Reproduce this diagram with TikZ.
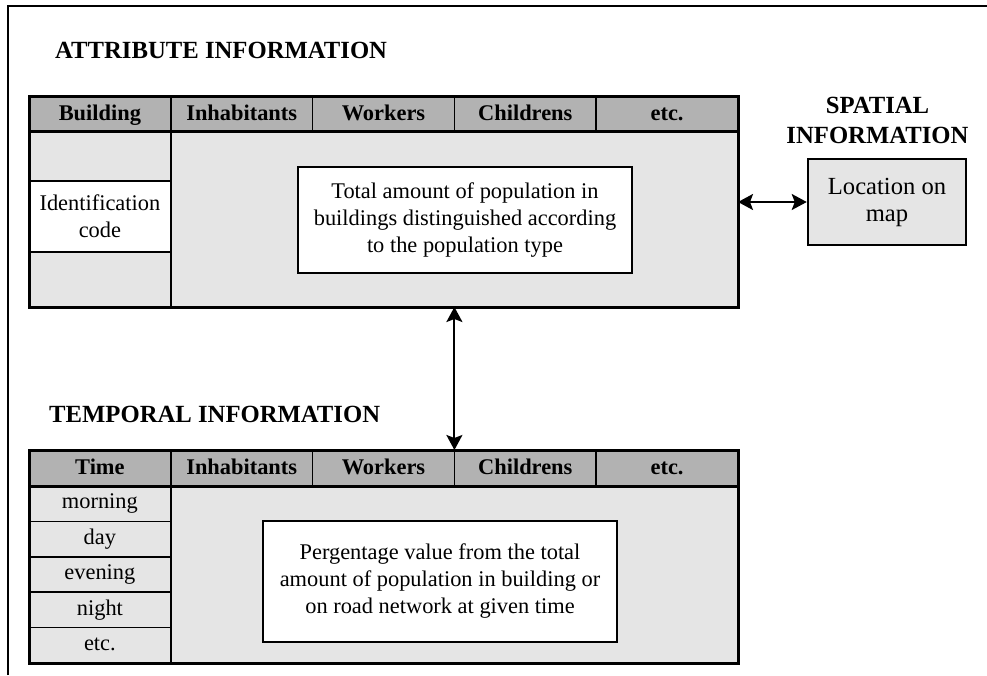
\documentclass[tikz,border=0pt]{standalone}
\usepackage{fontspec}
\setmainfont{Liberation Serif}
\usetikzlibrary{arrows.meta}
\definecolor{hdrgray}{gray}{0.70}
\definecolor{bodygray}{gray}{0.90}
\tikzset{
  cellbase/.style={anchor=north west, inner sep=0pt, outer sep=0pt, line width=1.5pt},
  hcell/.style={cellbase, draw=black, fill=hdrgray, minimum width=141.8pt,
    text height=17pt, text depth=3.5pt,
    font=\fontsize{22.4pt}{27pt}\selectfont\bfseries},
  bgfill/.style={anchor=north west, inner sep=0pt, outer sep=0pt, fill=bodygray, minimum width=709pt},
  lcell/.style={cellbase, draw=black, fill=bodygray, minimum width=141.8pt,
    font=\fontsize{22.4pt}{27pt}\selectfont},
  rowcell/.style={lcell, text height=15.5pt, text depth=5pt},
  whitecell/.style={lcell, fill=white, align=center},
  textbox/.style={draw=black, fill=white, line width=1.5pt, inner sep=0pt, align=center,
    font=\fontsize{22.4pt}{27pt}\selectfont},
  tframe/.style={anchor=north west, draw=black, line width=3pt, inner sep=0pt, outer sep=0pt, minimum width=709pt},
  titletext/.style={inner sep=0pt, font=\fontsize{24.7pt}{30pt}\selectfont\bfseries},
  locbox/.style={draw=black, fill=bodygray, line width=2.5pt, inner sep=0pt, align=center,
    font=\fontsize{24.6pt}{27pt}\selectfont, minimum width=158pt, minimum height=86pt},
  dbl/.style={line width=2pt, {Stealth[length=15pt,width=16pt,inset=3pt]}-{Stealth[length=15pt,width=16pt,inset=3pt]}},
  thickline/.style={line width=3pt}
}
\begin{document}
\begin{tikzpicture}[x=1pt,y=-1pt]
\useasboundingbox (0,0) rectangle (987,675);
\fill[white] (0,0) rectangle (987,675);
% page frame
\coordinate (fbl) at (8,675);
\coordinate (ftl) at (8,6);
\coordinate (ftr) at (987,6);
\draw[line width=2.4pt] (fbl) -- (ftl) -- (ftr);

% titles
\node[titletext, anchor=base west] (atitle) at (55,58) {ATTRIBUTE INFORMATION};
\node[titletext, anchor=base west] (ttitle) at (49,422) {TEMPORAL INFORMATION};
\node[titletext, align=center] (stitle) at (877.5,120) {SPATIAL\\INFORMATION};

% ===== attribute table =====
\node[bgfill, minimum height=176pt] (abody) at (29,131) {};
\node[hcell, minimum height=35pt] (ahbld) at (29,96) {Building};
\node[hcell, minimum height=35pt] (ahinh) at (170.8,96) {Inhabitants};
\node[hcell, minimum height=35pt] (ahwrk) at (312.6,96) {Workers};
\node[hcell, minimum height=35pt] (ahchd) at (454.4,96) {Childrens};
\node[hcell, minimum height=35pt] (ahetc) at (596.2,96) {etc.};
\node[lcell, minimum height=176pt] (abld) at (29,131) {};
\node[whitecell, minimum height=71pt] (aid) at (29,181) {Identification\\code};
\node[textbox, minimum width=334pt, minimum height=106pt] (atext) at (465,220)
  {Total amount of population in\\buildings distinguished according\\to the population type};
\draw[thickline] (ahbld.south west) -- (ahetc.south east);
\node[tframe, minimum height=211pt] (aframe) at (29,96) {};

% ===== temporal table =====
\node[bgfill, minimum height=177pt] (tbody) at (29,486) {};
\node[hcell, minimum height=36pt] (thtim) at (29,450) {Time};
\node[hcell, minimum height=36pt] (thinh) at (170.8,450) {Inhabitants};
\node[hcell, minimum height=36pt] (thwrk) at (312.6,450) {Workers};
\node[hcell, minimum height=36pt] (thchd) at (454.4,450) {Childrens};
\node[hcell, minimum height=36pt] (thetc) at (596.2,450) {etc.};
\node[rowcell, minimum height=35.4pt] (tmor) at (29,486) {morning};
\node[rowcell, minimum height=35.4pt] (tday) at (29,521.4) {day};
\node[rowcell, minimum height=35.4pt] (teve) at (29,556.8) {evening};
\node[rowcell, minimum height=35.4pt] (tnig) at (29,592.2) {night};
\node[rowcell, minimum height=35.4pt] (tetc) at (29,627.6) {etc.};
\node[textbox, minimum width=354pt, minimum height=121pt] (ttext) at (440,581.5)
  {Pergentage value from the total\\amount of population in building or\\on road network at given time};
\draw[thickline] (thtim.south west) -- (thetc.south east);
\node[tframe, minimum height=213pt] (tframe) at (29,450) {};

% ===== spatial =====
\node[locbox] (loc) at (887,202) {Location on\\map};

% connectors
\draw[dbl] (aframe.east |- loc.west) -- (loc.west);
\draw[dbl] (aframe.south -| ahwrk.south east) -- (tframe.north -| ahwrk.south east);
\end{tikzpicture}
\end{document}
